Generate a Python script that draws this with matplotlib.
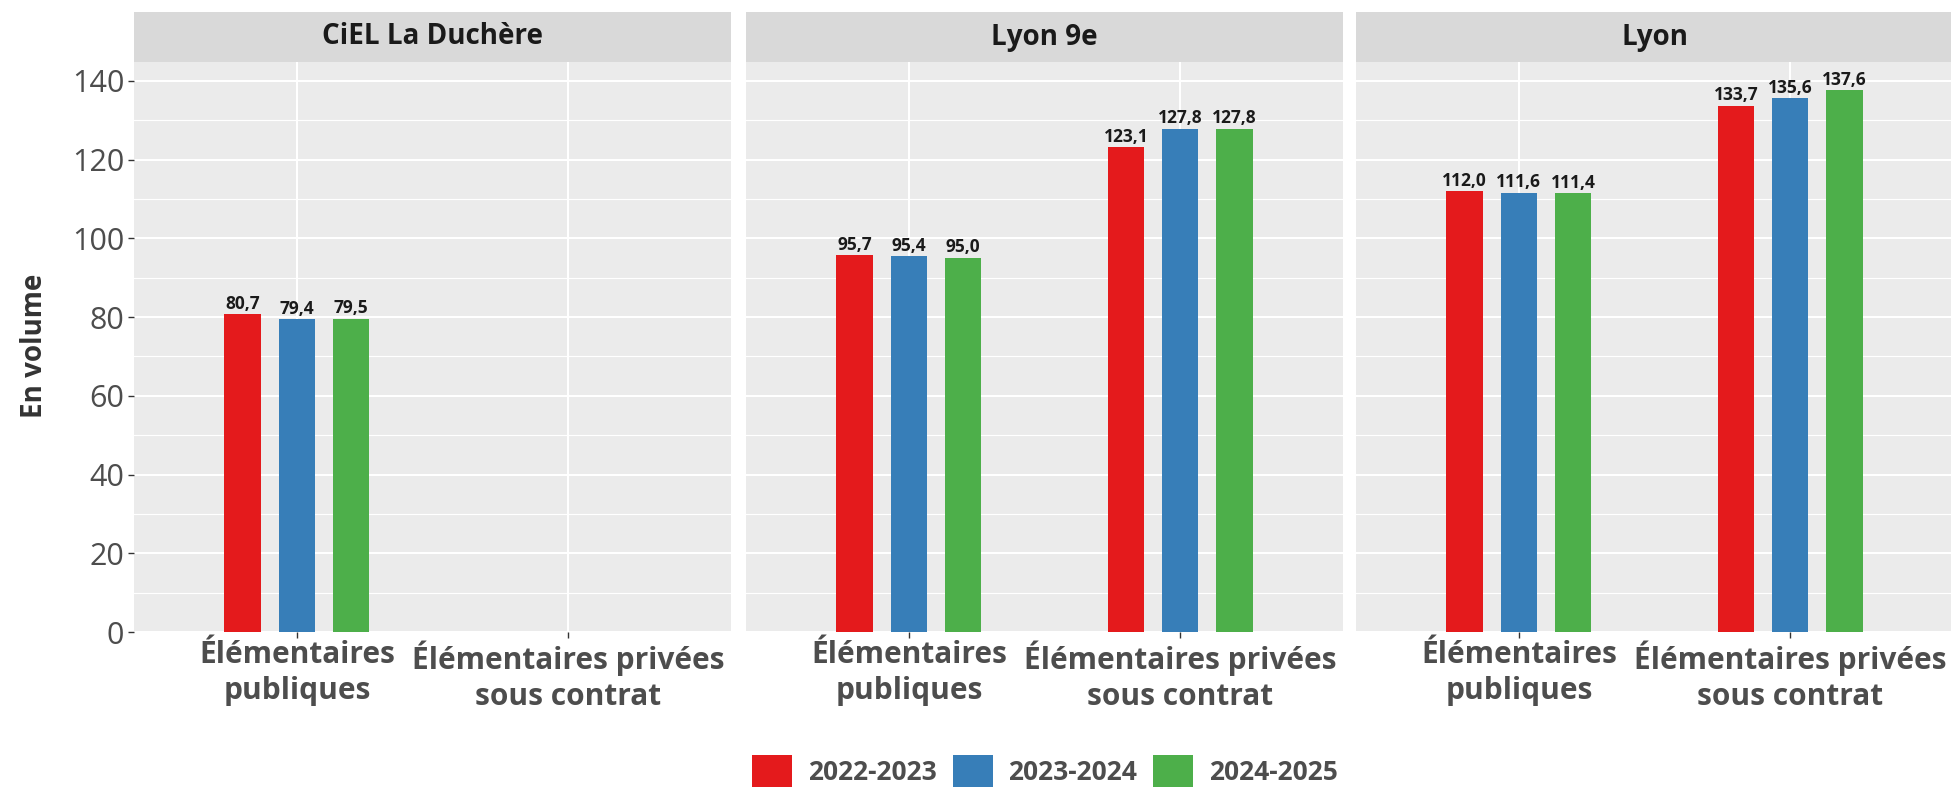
import matplotlib.pyplot as plt
from matplotlib.patches import Patch
from matplotlib.ticker import MultipleLocator

W, H = 1951, 789

facets = ['CiEL La Duchère', 'Lyon 9e', 'Lyon']
categories = ['Élémentaires\npubliques', 'Élémentaires privées\nsous contrat']
years = ['2022-2023', '2023-2024', '2024-2025']
colors = ['#E41A1C', '#377EB8', '#4DAF4A']

# one value per year (2022-2023, 2023-2024, 2024-2025)
ciel_publiques = [80.7, 79.4, 79.5]
ciel_privees = [None, None, None]
lyon9_publiques = [95.7, 95.4, 95.0]
lyon9_privees = [123.1, 127.8, 127.8]
lyon_publiques = [112.0, 111.6, 111.4]
lyon_privees = [133.7, 135.6, 137.6]

panels = [(ciel_publiques, ciel_privees),
          (lyon9_publiques, lyon9_privees),
          (lyon_publiques, lyon_privees)]

PANEL_LEFT = [134, 746, 1356]
PANEL_W = 597
PANEL_TOP, PANEL_BOTTOM = 62, 632
STRIP_TOP = 12

FONT = 'Open Sans'
TXT = '#4D4D4D'

fig = plt.figure(figsize=(W / 100, H / 100), dpi=100)
fig.patch.set_facecolor('white')

for i, (name, (pub, priv)) in enumerate(zip(facets, panels)):
    left = PANEL_LEFT[i]
    ax = fig.add_axes([left / W, (H - PANEL_BOTTOM) / H, PANEL_W / W,
                       (PANEL_BOTTOM - PANEL_TOP) / H])
    ax.set_facecolor('#EBEBEB')
    for j, year in enumerate(years):
        vals = [pub[j], priv[j]]
        xs = [k + (j - 1) * 0.2 for k in range(2) if vals[k] is not None]
        hs = [v for v in vals if v is not None]
        if not hs:
            continue
        ax.bar(xs, hs, width=0.135, color=colors[j], zorder=3)
        for x, v in zip(xs, hs):
            ax.annotate(f'{v:.1f}'.replace('.', ','), (x, v),
                        xytext=(0, 4), textcoords='offset points',
                        ha='center', va='baseline', fontsize=12.5,
                        fontweight='bold', family=FONT, color='#1A1A1A')

    ax.set_xlim(-0.6, 1.6)
    ax.set_ylim(0, 144.8)
    ax.set_xticks(range(2))
    ax.set_xticklabels(categories, fontsize=21.5, fontweight='bold',
                       family=FONT, color=TXT, linespacing=1.25)
    ax.yaxis.set_major_locator(MultipleLocator(20))
    ax.yaxis.set_minor_locator(MultipleLocator(10))
    ax.grid(which='major', color='white', lw=1.5, zorder=0)
    ax.grid(which='minor', axis='y', color='white', lw=0.8, zorder=0)
    ax.set_axisbelow(True)
    for s in ax.spines.values():
        s.set_visible(False)
    ax.tick_params(axis='x', length=4, width=1, color='#333333', pad=2)
    ax.tick_params(axis='y', which='minor', length=0)
    if i == 0:
        ax.tick_params(axis='y', length=4, width=1, color='#333333', pad=3,
                       labelsize=22, labelcolor=TXT)
        for lab in ax.get_yticklabels():
            lab.set_family('Open Sans')
    else:
        ax.tick_params(axis='y', length=0, labelleft=False)

    sax = fig.add_axes([left / W, (H - PANEL_TOP) / H, PANEL_W / W,
                        (PANEL_TOP - STRIP_TOP) / H])
    sax.set_facecolor('#D9D9D9')
    sax.set_xticks([])
    sax.set_yticks([])
    for s in sax.spines.values():
        s.set_visible(False)
    sax.text(0.5, 0.5, name, ha='center', va='center', fontsize=20,
             fontweight='bold', family=FONT, color='#1A1A1A',
             transform=sax.transAxes)

fig.text(35 / W, 1 - 346 / H, 'En volume', rotation=90, ha='center',
         va='center', fontsize=20, fontweight='bold', family=FONT,
         color='#333333')

handles = [Patch(facecolor=c, edgecolor='none') for c in colors]
fig.legend(handles, years, loc='center', bbox_to_anchor=(1045 / W, 1 - 771 / H),
           ncol=3, frameon=False, prop={'family': FONT, 'weight': 'bold', 'size': 19},
           labelcolor=TXT, handlelength=1.52, handleheight=1.52,
           handletextpad=0.6, columnspacing=0.6, borderpad=0)

fig.savefig('out.png', dpi=100)
